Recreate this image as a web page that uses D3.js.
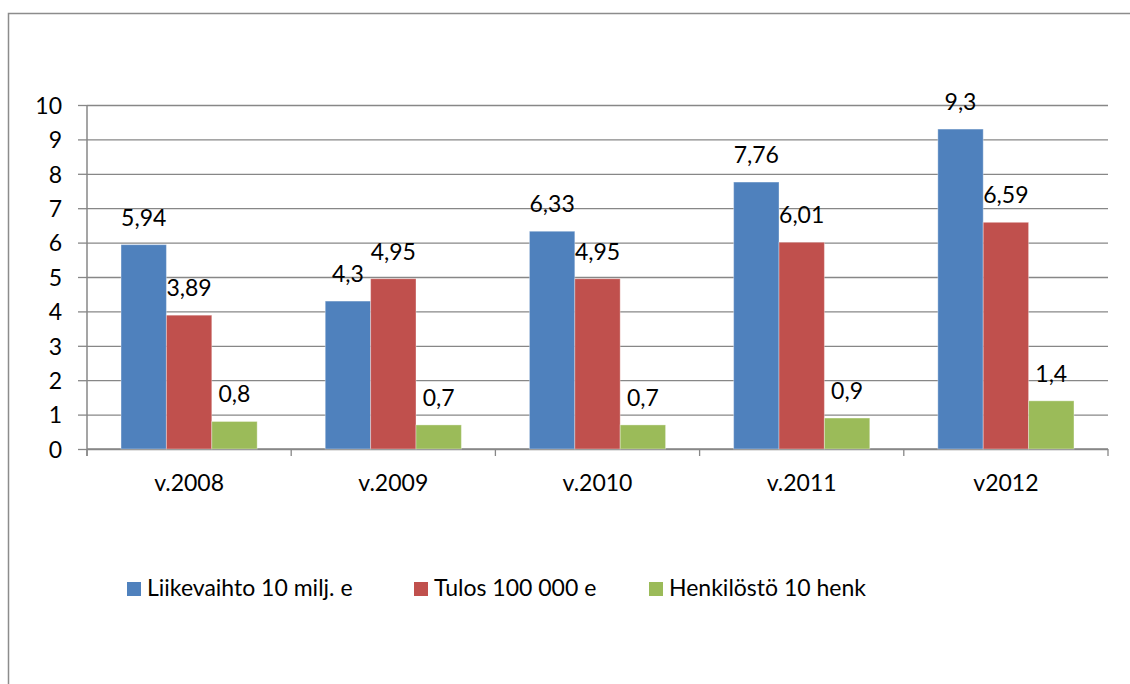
<!DOCTYPE html>
<html>
<head>
<meta charset="utf-8">
<script src="https://cdn.jsdelivr.net/npm/d3@7"></script>
<style>
  html, body { margin: 0; padding: 0; background: #fff; }
  svg { display: block; }
  text { font-family: Lato, "Open Sans", "Liberation Sans", sans-serif; fill: #000; }
</style>
</head>
<body>
<svg id="chart" width="1130" height="684"></svg>
<script>
// Yearly figures
const categories = ["v.2008", "v.2009", "v.2010", "v.2011", "v2012"];
const seriesNames = ["Liikevaihto 10 milj. e", "Tulos 100 000 e", "Henkilöstö 10 henk"];
const liikevaihto = [5.94, 4.3, 6.33, 7.76, 9.3];
const tulos = [3.89, 4.95, 4.95, 6.01, 6.59];
const henkilosto = [0.8, 0.7, 0.7, 0.9, 1.4];
const yTicks = [0, 1, 2, 3, 4, 5, 6, 7, 8, 9, 10];
const colors = ["#4F81BD", "#C0504D", "#9BBB59"];

const seriesValues = [liikevaihto, tulos, henkilosto];

const svg = d3.select("#chart");
const W = 1130, H = 684;
const plot = { left: 87, right: 1108, top: 105, bottom: 449 };
const gray = "#878787";
const fontSize = 23;

// Outer frame
svg.append("rect")
  .attr("x", 8.5).attr("y", 13.5)
  .attr("width", W + 20).attr("height", H + 20)
  .attr("fill", "none").attr("stroke", "#8c8c8c").attr("stroke-width", 1.5);

const y = d3.scaleLinear().domain([0, 10]).range([plot.bottom, plot.top]);
const x0 = d3.scaleBand().domain(categories).range([plot.left, plot.right])
  .paddingInner(1 / 3).paddingOuter(1 / 6);
const x1 = d3.scaleBand().domain(d3.range(seriesNames.length)).range([0, x0.bandwidth()]);

// Horizontal gridlines with outward ticks
const yAxis = d3.axisLeft(y).tickValues(yTicks).tickSize(-(plot.right - plot.left)).tickPadding(16)
  .tickFormat(d3.format("d"));
const gy = svg.append("g").attr("transform", `translate(${plot.left},0)`).call(yAxis);
gy.select(".domain").remove();
gy.selectAll(".tick line").attr("stroke", gray).attr("stroke-width", 1.3);
gy.selectAll(".tick").append("line")
  .attr("x1", -9).attr("x2", 0).attr("stroke", gray).attr("stroke-width", 1.3);
gy.selectAll(".tick text").attr("font-size", fontSize).attr("x", -25).attr("dy", "0.36em");

// Vertical axis line
svg.append("line")
  .attr("x1", plot.left).attr("x2", plot.left)
  .attr("y1", plot.top).attr("y2", plot.bottom + 7)
  .attr("stroke", gray).attr("stroke-width", 1.5);

// Category axis with boundary ticks
const step = x0.step();
const boundaries = d3.range(categories.length + 1).map(i => plot.left + i * step);
svg.append("g").selectAll("line").data(boundaries).join("line")
  .attr("x1", d => d).attr("x2", d => d)
  .attr("y1", plot.bottom).attr("y2", plot.bottom + 7)
  .attr("stroke", gray).attr("stroke-width", 1.3);
svg.append("line")
  .attr("x1", plot.left).attr("x2", plot.right)
  .attr("y1", plot.bottom).attr("y2", plot.bottom)
  .attr("stroke", gray).attr("stroke-width", 1.5);
svg.append("g").selectAll("text").data(categories).join("text")
  .attr("x", d => x0(d) + x0.bandwidth() / 2)
  .attr("y", 491)
  .attr("text-anchor", "middle")
  .attr("font-size", fontSize)
  .text(d => d);

// Bars and value labels
const fmt = v => String(v).replace(".", ",");
seriesValues.forEach((vals, s) => {
  const g = svg.append("g");
  g.selectAll("rect").data(vals).join("rect")
    .attr("x", (d, i) => x0(categories[i]) + x1(s))
    .attr("y", d => y(d))
    .attr("width", x1.bandwidth())
    .attr("height", d => y(0) - y(d))
    .attr("fill", colors[s])
    .attr("stroke", "rgba(255,255,255,0.35)")
    .attr("stroke-width", 1);
  g.selectAll("text").data(vals).join("text")
    .attr("x", (d, i) => x0(categories[i]) + x1(s) + x1.bandwidth() / 2)
    .attr("y", d => y(d) - 19)
    .attr("text-anchor", "middle")
    .attr("font-size", fontSize)
    .text(d => fmt(d));
});

// Legend
const legendX = [127, 414, 649];
const legend = svg.append("g");
seriesNames.forEach((name, s) => {
  legend.append("rect")
    .attr("x", legendX[s]).attr("y", 582)
    .attr("width", 14).attr("height", 14)
    .attr("fill", colors[s]);
  legend.append("text")
    .attr("x", legendX[s] + 20).attr("y", 596)
    .attr("font-size", fontSize)
    .attr("textLength", null)
    .text(name);
});
</script>
</body>
</html>
